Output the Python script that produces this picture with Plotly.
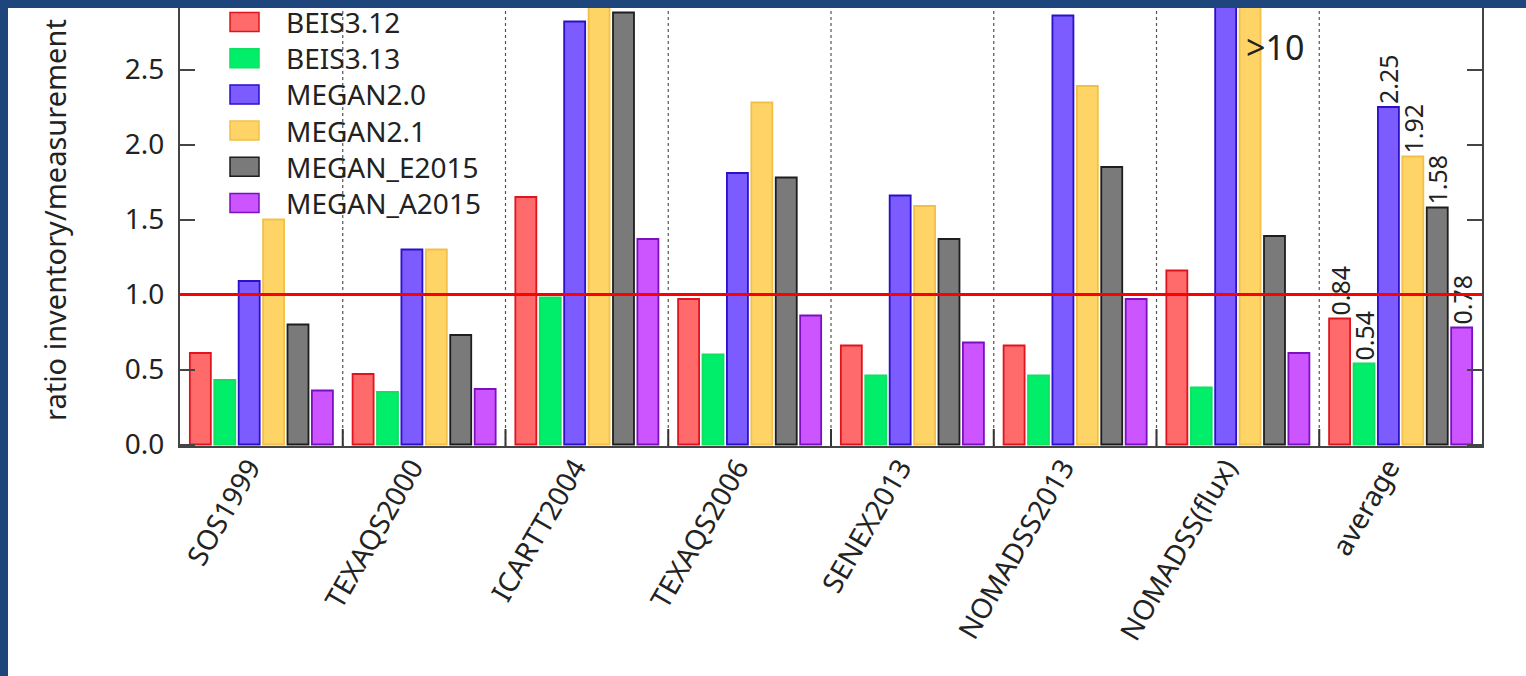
import plotly.graph_objects as go

# Campaign categories and inventory/measurement ratios per emission model
categories = ["SOS1999", "TEXAQS2000", "ICARTT2004", "TEXAQS2006",
              "SENEX2013", "NOMADSS2013", "NOMADSS(flux)", "average"]
series_names = ["BEIS3.12", "BEIS3.13", "MEGAN2.0", "MEGAN2.1",
                "MEGAN_E2015", "MEGAN_A2015"]

beis312 = [0.61, 0.47, 1.65, 0.97, 0.66, 0.66, 1.16, 0.84]
beis313 = [0.43, 0.35, 0.98, 0.60, 0.46, 0.46, 0.38, 0.54]
megan20 = [1.09, 1.30, 2.82, 1.81, 1.66, 2.86, 4.20, 2.25]
megan21 = [1.50, 1.30, 3.10, 2.28, 1.59, 2.39, 10.5, 1.92]
megan_e2015 = [0.80, 0.73, 2.88, 1.78, 1.37, 1.85, 1.39, 1.58]
megan_a2015 = [0.36, 0.37, 1.37, 0.86, 0.68, 0.97, 0.61, 0.78]

series_values = [beis312, beis313, megan20, megan21, megan_e2015, megan_a2015]

fill_colors = ["#ff6b6b", "#00ee6a", "#7c5cff", "#ffd466", "#7a7a7a", "#cc55ff"]
edge_colors = ["#e0141e", "#10e060", "#2a10c8", "#f2c048", "#1e1e1e", "#7a10c0"]

y_ticks = [0.0, 0.5, 1.0, 1.5, 2.0, 2.5]

# Canvas geometry (pixels)
W, H = 1526, 676
L, R, T, B = 180, 44, 8, 230
PW, PH = W - L - R, H - T - B


def px_x(p):
    return (p - L) / PW


def px_y(p):
    return (H - B - p) / PH


TEXT = "#222222"
AXIS = "#444444"
FONT = "Noto Sans"

fig = go.Figure()
n_cat = len(categories)
xs = list(range(n_cat))

for name, vals, fc, ec in zip(series_names, series_values, fill_colors, edge_colors):
    labels = [""] * (n_cat - 1) + [f"{vals[-1]:.2f}"]
    fig.add_trace(go.Bar(
        x=xs, y=vals, name=name,
        marker=dict(color=fc, line=dict(color=ec, width=1.8)),
        text=labels, textposition="outside", textangle=-90,
        constraintext="none", cliponaxis=False,
        textfont=dict(family=FONT, size=25, color=TEXT),
        showlegend=False,
    ))

shapes = []
# dotted separators between campaigns, with short base ticks
for i in range(n_cat - 1):
    shapes.append(dict(type="line", xref="x", yref="paper", x0=i + 0.5, x1=i + 0.5,
                       y0=0, y1=1, line=dict(color="#555555", width=1.2, dash="dot"),
                       layer="below"))
    shapes.append(dict(type="line", xref="x", yref="paper", x0=i + 0.5, x1=i + 0.5,
                       y0=0, y1=17 / PH, line=dict(color="#333333", width=2),
                       layer="above"))
# reference ratio of 1
shapes.append(dict(type="line", xref="paper", yref="y", x0=0, x1=1, y0=1.0, y1=1.0,
                   line=dict(color="#ff0000", width=3), layer="above"))

annotations = []
# legend drawn as boxes + labels
for i, (name, fc, ec) in enumerate(zip(series_names, fill_colors, edge_colors)):
    cy = 22 + 36.2 * i
    shapes.append(dict(type="rect", xref="paper", yref="paper",
                       x0=px_x(230), x1=px_x(259), y0=px_y(cy + 9.5), y1=px_y(cy - 9.5),
                       fillcolor=fc, line=dict(color=ec, width=1.5), layer="above"))
    annotations.append(dict(xref="paper", yref="paper", x=px_x(284), y=px_y(cy),
                            xanchor="left", yanchor="middle", showarrow=False,
                            text=name, font=dict(family=FONT, size=28, color=TEXT)))

# off-scale marker for the flux campaign
annotations.append(dict(xref="x", yref="y", x=6.04, y=2.65, xanchor="left",
                        yanchor="middle", showarrow=False, text="&gt;10",
                        font=dict(family=FONT, size=34, color=TEXT)))

# y-axis title
annotations.append(dict(xref="paper", yref="paper", x=px_x(54), y=px_y(220),
                        xanchor="center", yanchor="middle", showarrow=False,
                        textangle=-90, text="ratio inventory/measurement",
                        font=dict(family=FONT, size=29, color=TEXT)))

# page frame (top and left bands)
frame = "#1f467c"
shapes.append(dict(type="rect", xref="paper", yref="paper",
                   x0=px_x(0), x1=px_x(W), y0=px_y(8), y1=px_y(0),
                   fillcolor=frame, line=dict(width=0), layer="above"))
shapes.append(dict(type="rect", xref="paper", yref="paper",
                   x0=px_x(0), x1=px_x(8), y0=px_y(H), y1=px_y(0),
                   fillcolor=frame, line=dict(width=0), layer="above"))

fig.update_layout(
    width=W, height=H,
    margin=dict(l=L, r=R, t=T, b=B, pad=0),
    paper_bgcolor="white", plot_bgcolor="rgba(0,0,0,0)",
    barmode="group", bargap=0.1, bargroupgap=0.14,
    shapes=shapes, annotations=annotations,
    font=dict(family=FONT, size=28, color=TEXT),
    xaxis=dict(range=[-0.5, n_cat - 0.5], tickvals=xs, ticktext=categories,
               tickangle=-60, ticks="", showline=True, linecolor=AXIS, linewidth=2,
               showgrid=False, zeroline=False, ticklabelshift=-12,
               ticklabelstandoff=-8,
               tickfont=dict(family=FONT, size=28, color=TEXT)),
    yaxis=dict(range=[-0.01, 2.91], tickvals=y_ticks, tickformat=".1f",
               ticks="inside", ticklen=15, tickwidth=1.5, tickcolor=AXIS,
               showline=True, mirror="ticks", linecolor=AXIS, linewidth=2,
               showgrid=False, zeroline=False, ticklabelstandoff=8,
               tickfont=dict(family=FONT, size=28, color=TEXT)),
)

fig.write_html("out.html")
